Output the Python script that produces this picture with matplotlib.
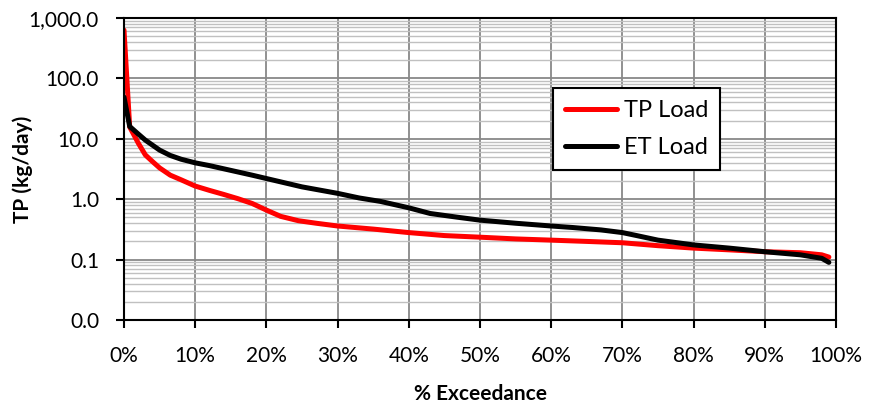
import matplotlib
matplotlib.use("Agg")
import matplotlib.pyplot as plt
from matplotlib.ticker import FuncFormatter, LogLocator, MultipleLocator, NullFormatter

plt.rcParams['font.family'] = ['Lato', 'DejaVu Sans']

tp_x = [0, 0.8, 2, 3, 4, 5, 6.5, 8, 10, 12, 14, 16, 18, 20, 22, 24.5, 27, 30, 35, 40, 45, 50, 55, 60, 65, 70, 75, 80, 85, 90, 95, 98, 99]
tp_y = [630, 15.7, 8.5, 5.4, 4.2, 3.3, 2.5, 2.1, 1.65, 1.4, 1.2, 1.02, 0.85, 0.66, 0.52, 0.44, 0.4, 0.36, 0.32, 0.28, 0.25, 0.235, 0.22, 0.21, 0.2, 0.19, 0.17, 0.155, 0.145, 0.135, 0.13, 0.12, 0.11]

et_x = [0, 0.8, 2, 3, 5, 6.5, 8, 10, 12, 15, 18, 20, 25, 30, 33, 36, 40, 43, 47, 50, 55, 60, 63, 67, 70, 72, 75, 80, 85, 90, 95, 98, 99]
et_y = [49, 16, 12, 9.5, 6.5, 5.3, 4.6, 4.0, 3.6, 3.0, 2.5, 2.2, 1.6, 1.25, 1.05, 0.92, 0.72, 0.58, 0.5, 0.45, 0.4, 0.36, 0.34, 0.31, 0.28, 0.25, 0.21, 0.175, 0.155, 0.135, 0.12, 0.105, 0.09]

fig = plt.figure(figsize=(8.71, 4.12), dpi=100)
ax = fig.add_axes([124/871, 1-320/412, 712/871, 302/412])

ax.set_yscale('log')
ax.set_ylim(0.01, 1000)
ax.set_xlim(0, 100)

ax.yaxis.set_major_locator(LogLocator(base=10, numticks=10))
ax.yaxis.set_minor_locator(LogLocator(base=10, subs=range(2, 10), numticks=20))
ax.yaxis.set_minor_formatter(NullFormatter())
ax.yaxis.set_major_formatter(FuncFormatter(lambda v, p: f"{v:,.1f}"))
ax.xaxis.set_major_locator(MultipleLocator(10))
ax.xaxis.set_major_formatter(FuncFormatter(lambda v, p: f"{v:.0f}%"))

ax.grid(which='minor', axis='y', color='#c0c0c0', linewidth=1.0)
ax.grid(which='major', axis='y', color='#888888', linewidth=1.3)
ax.grid(which='major', axis='x', color='#888888', linewidth=1.3)
ax.set_axisbelow(True)
ax.tick_params(which='minor', left=False)
ax.tick_params(which='major', direction='out', length=6, width=1.5, labelsize=15, colors='black')
ax.tick_params(axis='x', pad=13)
ax.tick_params(axis='y', pad=12)

for s in ax.spines.values():
    s.set_linewidth(1.5)
    s.set_color('black')

ax.plot(tp_x, tp_y, color='#ff0000', linewidth=3.6, label='TP Load', solid_capstyle='round')
ax.plot(et_x, et_y, color='black', linewidth=3.6, label='ET Load', solid_capstyle='round')

ax.set_ylabel('TP (kg/day)', fontsize=15, fontweight='bold')
ax.yaxis.set_label_coords(-0.128, 0.5)
ax.set_xlabel('% Exceedance', fontsize=15, fontweight='bold', labelpad=13)

leg = ax.legend(loc='upper left', bbox_to_anchor=(0.603, 0.768), borderaxespad=0, fontsize=17, frameon=True,
                fancybox=False, edgecolor='black', handlelength=2.2, handletextpad=0.3,
                borderpad=0.5, labelspacing=0.7, framealpha=1)
leg.get_frame().set_linewidth(1.5)

fig.savefig('out.png', dpi=100)
